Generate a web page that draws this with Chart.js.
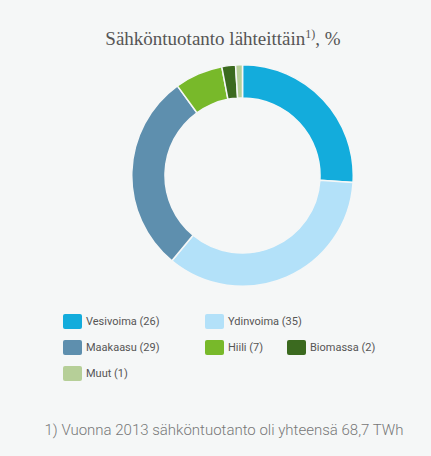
<!DOCTYPE html>
<html><head><meta charset="utf-8">
<script src="https://cdn.jsdelivr.net/npm/chart.js@4/dist/chart.umd.min.js"></script>
<style>
html,body{margin:0;padding:0;background:#f5f7f7;width:431px;height:456px;overflow:hidden;}
#title{position:absolute;left:0;width:446px;top:27px;text-align:center;font-family:"Liberation Serif",serif;font-size:19px;color:#555;}
#title sup{font-size:12px;}
#wrap{position:absolute;left:131px;top:64px;width:223px;height:223px;}
.lg{position:absolute;font-family:Roboto,sans-serif;font-size:11px;color:#555;display:flex;align-items:center;white-space:nowrap;}
.lg span.b{display:inline-block;width:19px;height:15px;border-radius:2px;margin-right:4px;}
#foot{position:absolute;left:0;width:448px;top:421px;text-align:center;font-family:Roboto,sans-serif;font-weight:300;font-size:15px;color:#777;}
</style></head><body>
<div id="title">Sähköntuotanto lähteittäin<sup>1)</sup>, %</div>
<div id="wrap"><canvas id="c"></canvas></div>
<div id="legend"></div>
<div id="foot">1) Vuonna 2013 sähköntuotanto oli yhteensä 68,7 TWh</div>
<script>
const categories = ["Vesivoima","Ydinvoima","Maakaasu","Hiili","Biomassa","Muut"];
const values = [26,35,29,7,2,1];
const colors = ["#13acdc","#b3e1f9","#5e8fae","#78b92a","#3b6a1f","#b6cf98"];
const legendPos = [[63,321],[205,321],[63,347],[205,347],[287,347],[63,373]];

new Chart(document.getElementById('c'), {
  type:'doughnut',
  data:{labels:categories,datasets:[{data:values,backgroundColor:colors,borderColor:'#f5f7f7',borderWidth:1.5}]},
  options:{responsive:true,maintainAspectRatio:false,animation:false,cutout:'70%',
    plugins:{legend:{display:false},tooltip:{enabled:false}},layout:{padding:0}}
});
const lg=document.getElementById('legend');
categories.forEach((c,i)=>{
  const d=document.createElement('div');d.className='lg';
  d.style.left=legendPos[i][0]+'px';d.style.top=(legendPos[i][1]-7)+'px';
  d.innerHTML='<span class="b" style="background:'+colors[i]+'"></span>'+c+' ('+values[i]+')';
  lg.appendChild(d);
});
</script>
</body></html>
